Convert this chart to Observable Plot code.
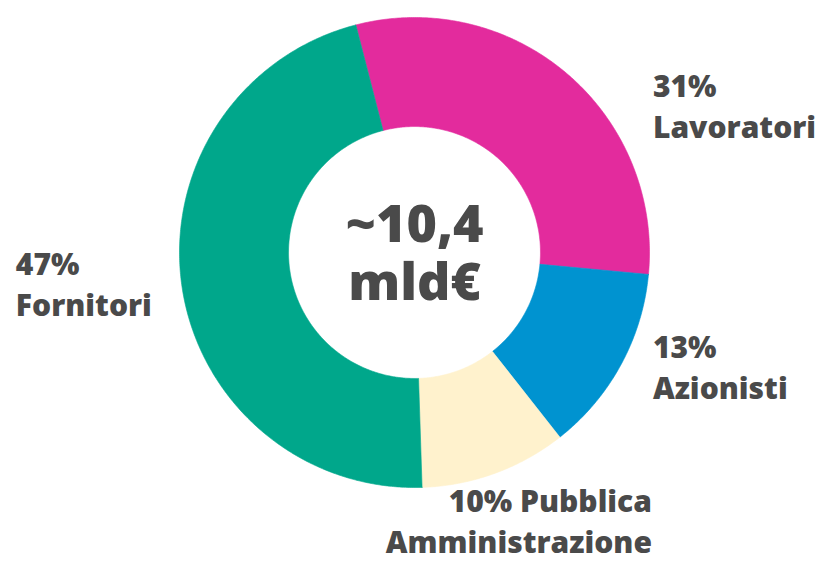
<!DOCTYPE html>
<html><head><meta charset="utf-8">
<script src="https://cdn.jsdelivr.net/npm/d3@7"></script>
<script src="https://cdn.jsdelivr.net/npm/@observablehq/plot@0.6"></script>
<style>body{margin:0;background:#fff;} #chart svg{display:block;}</style>
</head><body><div id="chart"></div>
<script>
// ---- data ----
const categories = ["Lavoratori", "Azionisti", "Pubblica Amministrazione", "Fornitori"];
const shares = [30.5, 12.9, 10.1, 46.5];
const labelTexts = ["31%\nLavoratori", "13%\nAzionisti", "10% Pubblica\nAmministrazione", "47%\nFornitori"];
const colors = ["#E32B9D", "#0093D0", "#FFF2CD", "#00A78B"];
const totalLabel = "~10,4\nmld€";

// ---- layout ----
const W = 821, H = 567;
const startAngle = -14.45;     // degrees, clockwise from 12 o'clock
const innerRatio = 0.536;
const textColor = "#4A4A4A";
const labelFont = "'Open Sans', Lato, sans-serif";
const labelNudge = {
  "Lavoratori": {anchor: "start", dx: 86, dy: 64},
  "Azionisti": {anchor: "start", dx: 32, dy: 34},
  "Pubblica Amministrazione": {anchor: "end", dx: 157, dy: 80},
  "Fornitori": {anchor: "start", dx: -166, dy: 30}
};

// ---- build wedges ----
const total = d3.sum(shares);
let acc = startAngle;
const slices = categories.map((c, i) => {
  const a0 = acc, a1 = acc + shares[i] / total * 360;
  acc = a1;
  return {key: c, a0, a1, mid: (a0 + a1) / 2, label: labelTexts[i]};
});
const rad = d => d * Math.PI / 180;
const pts = [];
for (const s of slices) {
  const n = Math.ceil((s.a1 - s.a0) / 0.5);
  const ring = [];
  for (let k = 0; k <= n; k++) { const a = s.a0 + (s.a1 - s.a0) * k / n; ring.push([Math.sin(rad(a)), Math.cos(rad(a))]); }
  for (let k = n; k >= 0; k--) { const a = s.a0 + (s.a1 - s.a0) * k / n; ring.push([innerRatio * Math.sin(rad(a)), innerRatio * Math.cos(rad(a))]); }
  ring.push(ring[0]);
  for (const [x, y] of ring) pts.push({key: s.key, x, y});
}
const labelData = slices.map(s => ({...s, x: Math.sin(rad(s.mid)), y: Math.cos(rad(s.mid))}));

const R = 235, cx = 414, cy = 252;
const chart = Plot.plot({
  width: W, height: H,
  margin: 0,
  x: {domain: [-cx / R, (W - cx) / R], axis: null},
  y: {domain: [-(H - cy) / R, cy / R], axis: null},
  color: {domain: categories, range: colors},
  style: {fontFamily: labelFont, background: "#fff"},
  marks: [
    Plot.line(pts, {x: "x", y: "y", z: "key", fill: "key", stroke: "key", strokeWidth: 0.6, curve: "linear"}),
    ...labelData.map(d => Plot.text([d], {
      x: "x", y: "y", text: "label",
      textAnchor: labelNudge[d.key].anchor, lineAnchor: "bottom",
      dx: labelNudge[d.key].dx, dy: labelNudge[d.key].dy,
      fontSize: 30, fontWeight: 800, lineHeight: 1.37, fill: textColor
    })),
    Plot.text([totalLabel], {x: () => 0, y: () => 0, text: d => d, lineAnchor: "middle",
      fontSize: 52, fontWeight: 800, lineHeight: 1.12, fill: textColor})
  ]
});
document.getElementById("chart").appendChild(chart);
</script>
</body></html>
